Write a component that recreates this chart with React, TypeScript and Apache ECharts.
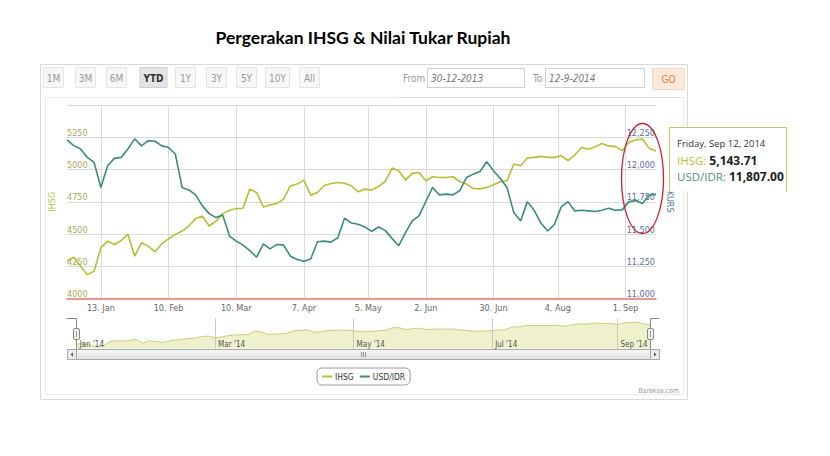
import React, { useEffect, useRef } from "react";
import * as echarts from "echarts";

// one value every 2nd trading session, 30 Dec 2013 .. 12 Sep 2014
const SAMPLE_STEP = 2;
const ihsg = [
  4289, 4320, 4250, 4185, 4211, 4393, 4445, 4419, 4450, 4497,
  4328, 4432, 4406, 4362, 4424, 4463, 4497, 4523, 4562, 4619,
  4640, 4562, 4600, 4658, 4684, 4697, 4700, 4848, 4822, 4710,
  4726, 4736, 4770, 4874, 4887, 4918, 4800, 4822, 4876, 4892,
  4899, 4894, 4874, 4827, 4848, 4840, 4868, 4907, 5011, 4990,
  4918, 4970, 4977, 4913, 4944, 4938, 4938, 4944, 4907, 4887,
  4853, 4850, 4861, 4881, 4905, 4913, 5042, 5029, 5089, 5094,
  5102, 5094, 5094, 5107, 5068, 5112, 5170, 5157, 5177, 5201,
  5183, 5177, 5146, 5211, 5229, 5237, 5164, 5144,
];
const usdIdr = [
  12229, 12185, 12159, 12094, 12055, 11861, 12029, 12086, 12094, 12159,
  12237, 12183, 12224, 12219, 12183, 12170, 12120, 11861, 11842, 11803,
  11718, 11658, 11627, 11648, 11484, 11445, 11414, 11372, 11320, 11424,
  11385, 11419, 11414, 11328, 11302, 11289, 11307, 11440, 11445, 11437,
  11471, 11622, 11585, 11575, 11554, 11520, 11554, 11528, 11466, 11409,
  11510, 11601, 11640, 11752, 11861, 11803, 11809, 11803, 11835, 11938,
  11964, 11985, 12060, 11990, 11930, 11860, 11666, 11601, 11751, 11684,
  11585, 11523, 11575, 11710, 11751, 11679, 11684, 11679, 11674, 11684,
  11700, 11684, 11687, 11751, 11759, 11736, 11803, 11807,
];

const xTickIdx = [10, 30, 50, 70, 89, 106, 126, 145, 165];
const xTickLabels = ["13. Jan", "10. Feb", "10. Mar", "7. Apr", "5. May", "2. Jun", "30. Jun", "4. Aug", "1. Sep"];
const navTickIdx = [0, 42, 84, 126, 164];
const navTickLabels = ["Jan '14", "Mar '14", "May '14", "Jul '14", "Sep '14"];

const rangeButtons = ["1M", "3M", "6M", "YTD", "1Y", "3Y", "5Y", "10Y", "All"];
const rangeCenters = [53, 85, 116, 153, 185, 216, 246, 277, 309];
const rangeWidths = [20, 20, 20, 27, 20, 20, 20, 24, 20];

const tooltipDate = "Friday, Sep 12, 2014";
const tooltipIhsg = "5,143.71";
const tooltipUsd = "11,807.00";

const IHSG_COLOR = "#b5bf36";
const USD_COLOR = "#3d8c7a";
const FONT = "'Liberation Sans Narrow','DejaVu Sans Condensed',Roboto,sans-serif";

function buildGraphic(): any[] {
  const g: any[] = [];
  g.push({
    type: "text", x: 363, y: 37,
    style: { text: "Pergerakan IHSG & Nilai Tukar Rupiah", fontFamily: "Lato", fontWeight: "bold", fontSize: 17.5, fill: "#000", align: "center", verticalAlign: "middle" },
  });
  // container
  g.push({ type: "rect", shape: { x: 40.5, y: 64.5, width: 647, height: 335 }, style: { fill: "none", stroke: "#d9d9d9" } });
  g.push({ type: "rect", shape: { x: 45.5, y: 97.5, width: 638, height: 297 }, style: { fill: "none", stroke: "#ececec" } });

  // range selector
  rangeButtons.forEach((b, i) => {
    const sel = b === "YTD";
    const w = rangeWidths[i];
    g.push({
      type: "rect", shape: { x: rangeCenters[i] - w / 2 + 0.5, y: 67.5, width: w, height: 20 },
      style: { fill: sel ? "#e4e4e4" : "#f7f7f7", stroke: sel ? "#cfcfcf" : "#e4e4e4" },
    });
    g.push({
      type: "text", x: rangeCenters[i] + 0.5, y: 78,
      style: { text: b, fontFamily: FONT, fontSize: 10, fontWeight: sel ? "bold" : "normal", fill: sel ? "#333" : "#999", align: "center", verticalAlign: "middle" },
    });
  });
  g.push({ type: "text", x: 403, y: 78, style: { text: "From", fontFamily: FONT, fontSize: 10, fill: "#999", verticalAlign: "middle" } });
  g.push({ type: "rect", shape: { x: 427.5, y: 68.5, width: 97, height: 19 }, style: { fill: "#fff", stroke: "#cfcfcf" } });
  g.push({ type: "text", x: 431, y: 78, style: { text: "30-12-2013", fontFamily: FONT, fontStyle: "italic", fontSize: 10, fill: "#777", verticalAlign: "middle" } });
  g.push({ type: "text", x: 533, y: 78, style: { text: "To", fontFamily: FONT, fontSize: 10, fill: "#999", verticalAlign: "middle" } });
  g.push({ type: "rect", shape: { x: 545.5, y: 68.5, width: 99, height: 19 }, style: { fill: "#fff", stroke: "#cfcfcf" } });
  g.push({ type: "text", x: 549, y: 78, style: { text: "12-9-2014", fontFamily: FONT, fontStyle: "italic", fontSize: 10, fill: "#777", verticalAlign: "middle" } });
  g.push({ type: "rect", shape: { x: 652.5, y: 68.5, width: 32, height: 21 }, style: { fill: "#fde8da", stroke: "#f6d7c3" } });
  g.push({ type: "text", x: 668.5, y: 79, style: { text: "GO", fontFamily: FONT, fontSize: 10, fill: "#e37a3a", align: "center", verticalAlign: "middle" } });
  g.push({ type: "line", shape: { x1: 398, y1: 97.5, x2: 684, y2: 97.5 }, style: { stroke: "#e2e2e2" } });

  // navigator handles
  g.push({ type: "polyline", z: 100, shape: { points: [[66.5, 318.5], [76.5, 318.5], [76.5, 349]] }, style: { stroke: "#8a8a8a", fill: "none" } });
  g.push({ type: "polyline", z: 100, shape: { points: [[659.5, 318.5], [650.5, 318.5], [650.5, 349]] }, style: { stroke: "#8a8a8a", fill: "none" } });
  [[73.5, 76.5], [647.5, 650.5]].forEach(([hx, cx]) => {
    g.push({ type: "rect", z: 100, shape: { x: hx, y: 328.5, width: 6, height: 11, r: 1.5 }, style: { fill: "#f2f2f2", stroke: "#888" } });
    g.push({ type: "line", z: 101, shape: { x1: cx, y1: 331, x2: cx, y2: 337 }, style: { stroke: "#999" } });
  });

  // scrollbar
  g.push({ type: "rect", shape: { x: 67.5, y: 349.5, width: 591, height: 10 }, style: { fill: "#f2f2f2", stroke: "#bdbdbd" } });
  g.push({
    type: "rect", shape: { x: 76.5, y: 349.5, width: 574, height: 10 },
    style: {
      stroke: "#a9a9a9",
      fill: new echarts.graphic.LinearGradient(0, 0, 0, 1, [
        { offset: 0, color: "#f7f7f7" }, { offset: 1, color: "#dedede" },
      ]),
    },
  });
  g.push({ type: "rect", shape: { x: 67.5, y: 349.5, width: 9, height: 10 }, style: { fill: "#ebebeb", stroke: "#a9a9a9" } });
  g.push({ type: "rect", shape: { x: 650.5, y: 349.5, width: 9, height: 10 }, style: { fill: "#ebebeb", stroke: "#a9a9a9" } });
  g.push({ type: "polygon", shape: { points: [[73, 352.5], [73, 356.5], [70.5, 354.5]] }, style: { fill: "#555" } });
  g.push({ type: "polygon", shape: { points: [[654, 352.5], [654, 356.5], [656.5, 354.5]] }, style: { fill: "#555" } });
  [361.5, 363.5, 365.5].forEach((lx) => {
    g.push({ type: "line", shape: { x1: lx, y1: 352, x2: lx, y2: 357 }, style: { stroke: "#999" } });
  });

  g.push({ type: "text", x: 679, y: 391, style: { text: "Bareksa.com", fontFamily: FONT, fontSize: 7, fill: "#999", align: "right", verticalAlign: "middle" } });

  // tooltip snapshot
  g.push({ type: "rect", z: 100, shape: { x: 669.5, y: 127.5, width: 117, height: 64 }, style: { fill: "#fff" } });
  g.push({
    type: "polyline", z: 101,
    shape: { points: [[669.5, 191.5], [669.5, 127.5], [786.5, 127.5], [786.5, 191.5]] },
    style: { stroke: "#c0c75e", fill: "none" },
  });
  g.push({ type: "text", z: 102, x: 677, y: 143, style: { text: tooltipDate, fontFamily: "Open Sans", fontSize: 9.5, fill: "#333", verticalAlign: "middle" } });
  g.push({
    type: "text", z: 102, x: 677, y: 160,
    style: {
      text: "{l|IHSG: }{v|" + tooltipIhsg + "}", verticalAlign: "middle",
      rich: {
        l: { fontFamily: "Open Sans", fontSize: 11.5, fill: IHSG_COLOR },
        v: { fontFamily: "Open Sans", fontSize: 12, fontWeight: "bold", fill: "#222" },
      },
    },
  });
  g.push({
    type: "text", z: 102, x: 677, y: 176,
    style: {
      text: "{l|USD/IDR: }{v|" + tooltipUsd + "}", verticalAlign: "middle",
      rich: {
        l: { fontFamily: "Open Sans", fontSize: 11.5, fill: "#4f8f84" },
        v: { fontFamily: "Open Sans", fontSize: 12, fontWeight: "bold", fill: "#222" },
      },
    },
  });

  // red highlight ring
  g.push({ type: "ellipse", z: 110, shape: { cx: 642.5, cy: 178.5, rx: 21, ry: 55 }, style: { fill: "none", stroke: "#c1272d", lineWidth: 1.3 } });
  return g;
}

export default function App() {
  const ref = useRef<HTMLDivElement>(null);

  useEffect(() => {
    const el = ref.current;
    if (!el) return;
    const chart = echarts.init(el, undefined, { renderer: "svg" });

    const ihsgData = ihsg.map((v, i) => [i * SAMPLE_STEP, v]);
    const usdData = usdIdr.map((v, i) => [i * SAMPLE_STEP, v]);

    chart.setOption({
      animation: false,
      backgroundColor: "#fff",
      textStyle: { fontFamily: FONT },
      grid: [
        { left: 67, top: 105, width: 589, height: 193.5 },
        { left: 76.5, top: 318.5, width: 574, height: 30 },
      ],
      xAxis: [
        {
          type: "value", gridIndex: 0, min: 0, max: 174, position: "bottom",
          axisLine: { onZero: false, lineStyle: { color: "#ef7575", width: 1.5 } },
          axisTick: { show: false, customValues: xTickIdx },
          axisLabel: {
            customValues: xTickIdx, color: "#666", fontSize: 9, margin: 5,
            formatter: (v: number) => xTickLabels[xTickIdx.indexOf(v)] ?? "",
          },
          splitLine: { show: true, lineStyle: { color: "#dcdcdc" } },
        },
        {
          type: "value", gridIndex: 1, min: 0, max: 174, z: 5,
          axisLine: { show: false },
          axisTick: { show: false, customValues: navTickIdx },
          axisLabel: {
            inside: true, customValues: navTickIdx, color: "#555", fontSize: 8, margin: 0,
            align: "left", padding: [0, 0, 0, 3],
            formatter: (v: number) => navTickLabels[navTickIdx.indexOf(v)] ?? "",
          },
          splitLine: { show: true, lineStyle: { color: "#c8c8c8" } },
        },
      ],
      yAxis: [
        {
          type: "value", gridIndex: 0, min: 4000, max: 5500, interval: 250, position: "left",
          name: "IHSG", nameLocation: "middle", nameGap: 10, nameRotate: 90,
          nameTextStyle: { color: IHSG_COLOR, fontSize: 9 },
          axisLine: { show: false }, axisTick: { show: false },
          axisLabel: {
            inside: true, showMaxLabel: false, color: "#a6ac55", fontSize: 9, margin: 0, verticalAlign: "bottom",
            formatter: (v: number) => String(v),
          },
          splitLine: { lineStyle: { color: "#d9d9d9" } },
        },
        {
          type: "value", gridIndex: 0, min: 11000, max: 12500, interval: 250, position: "right",
          name: "KURS", nameLocation: "middle", nameGap: 9, nameRotate: -90,
          nameTextStyle: { color: "#4d74a8", fontSize: 9 },
          axisLine: { show: false }, axisTick: { show: false },
          axisLabel: {
            inside: true, showMaxLabel: false, color: "#5b6d9e", fontSize: 9, margin: 1, verticalAlign: "bottom",
            formatter: (v: number) => v.toLocaleString("en-US"),
          },
          splitLine: { show: false },
        },
        { type: "value", gridIndex: 1, min: 4100, max: 5400, show: false },
      ],
      legend: {
        left: 317, top: 368, icon: "rect", itemWidth: 10, itemHeight: 2, itemGap: 6,
        padding: [4, 5, 4, 5], borderColor: "#9a9a9a", borderWidth: 1, borderRadius: 5,
        textStyle: { fontSize: 8.5, color: "#333", padding: [0, 0, 0, -2] },
        data: ["IHSG", "USD/IDR"],
      },
      series: [
        {
          name: "IHSG", type: "line", xAxisIndex: 0, yAxisIndex: 0, data: ihsgData,
          showSymbol: false, lineStyle: { color: IHSG_COLOR, width: 1.6 }, itemStyle: { color: IHSG_COLOR },
        },
        {
          name: "USD/IDR", type: "line", xAxisIndex: 0, yAxisIndex: 1, data: usdData,
          showSymbol: false, lineStyle: { color: USD_COLOR, width: 1.6 }, itemStyle: { color: USD_COLOR },
        },
        {
          name: "navigator", type: "line", xAxisIndex: 1, yAxisIndex: 2, data: ihsgData,
          showSymbol: false, silent: true, z: 1,
          lineStyle: { color: "#c9cf7c", width: 1 }, areaStyle: { color: "#eef1cb", opacity: 1 },
        },
      ],
      graphic: buildGraphic(),
    });

    return () => chart.dispose();
  }, []);

  return <div ref={ref} style={{ position: "absolute", left: 0, top: 0, width: 830, height: 456 }} />;
}
